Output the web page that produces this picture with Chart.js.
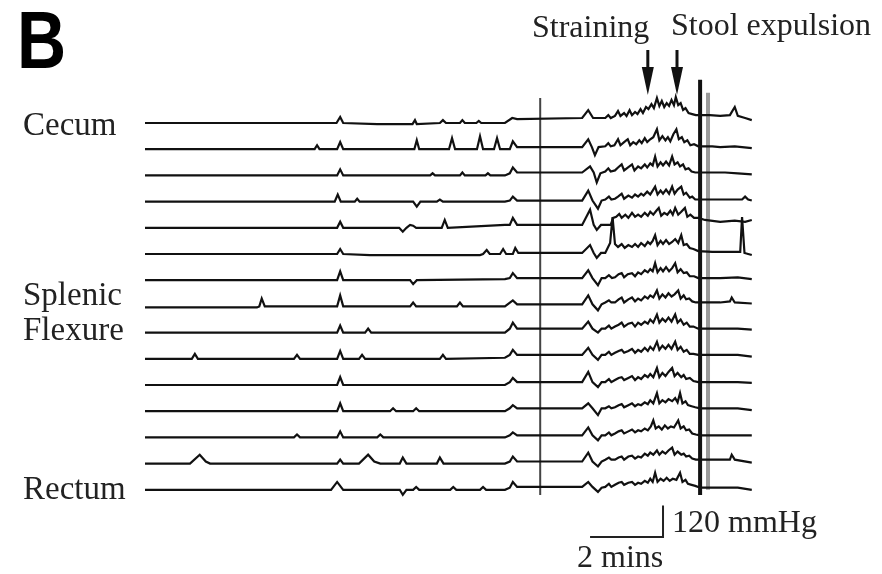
<!DOCTYPE html>
<html>
<head>
<meta charset="utf-8">
<script src="https://cdn.jsdelivr.net/npm/chart.js@4"></script>
<style>
  html, body { margin: 0; padding: 0; background: #fff; }
  #wrap { width: 882px; height: 574px; position: relative; }
</style>
</head>
<body>
<div id="wrap"><canvas id="c"></canvas></div>
<script>
// each trace: [seconds, mmHg above its own baseline], top (cecum) to bottom (rectum)
const trace01 = [[0,0],[315,0],[321,23],[326,0],[382,-4],[440,-4],[444,11],[447,-4],[485,0],[490,11],[495,0],[518,0],[522,11],[526,0],[545,0],[549,8],[553,0],[592,0],[604,19],[612,15],[719,19],[729,49],[737,19],
  [757,19],[762,30],[766,19],[773,27],[778,46],[782,27],[788,38],[792,27],[797,49],[801,30],[806,42],[810,34],[815,53],[819,38],[824,61],[828,53],[833,72],[837,57],[842,95],[846,65],[850,84],[854,61],[858,76],[862,65],[866,88],[870,68],[873,99],[877,68],[881,76],[885,50],[889,57],[894,38],[900,34],[906,30],
  [913,30],[929,30],[946,27],[962,30],[970,61],[975,27],[987,19],[998,11]];
const trace02 = [[0,0],[279,0],[283,15],[287,0],[316,0],[321,27],[326,0],[443,0],[447,34],[451,0],[500,0],[505,42],[510,0],[546,0],[551,49],[556,0],[574,0],[579,42],[584,0],[600,0],[605,30],[612,8],[719,8],[729,38],[735,8],[740,-23],[746,8],
  [757,11],[762,23],[766,11],[772,15],[778,38],[782,15],[788,27],[794,38],[798,15],[803,27],[808,19],[813,34],[817,23],[822,42],[826,27],[831,38],[836,46],[842,76],[846,34],[851,50],[856,34],[860,46],[864,30],[869,57],[874,76],[878,38],[883,46],[887,27],[892,34],[897,15],[903,19],[910,11],
  [933,11],[946,8],[970,11],[998,4]];
const trace03 = [[0,0],[316,0],[321,23],[326,0],[469,0],[473,8],[477,0],[518,0],[522,11],[526,0],[560,0],[564,8],[568,0],[592,0],[600,8],[605,30],[612,11],[719,11],[732,34],[738,11],[743,-27],[749,8],
  [757,15],[762,27],[766,15],[773,19],[778,30],[784,42],[788,19],[794,30],[801,42],[805,19],[811,34],[816,27],[822,42],[826,30],[831,46],[835,38],[839,72],[843,34],[848,50],[852,38],[857,53],[862,38],[867,72],[871,42],[876,50],[880,34],[885,42],[889,23],[894,27],[899,15],[905,11],
  [933,11],[954,11],[975,8],[998,4]];
const trace04 = [[0,0],[312,0],[317,27],[322,0],[345,0],[349,11],[353,0],[441,0],[447,-19],[453,0],[480,0],[485,8],[490,0],[592,0],[600,4],[605,19],[612,4],[719,4],[729,42],[736,4],[745,-27],[751,4],
  [757,8],[763,19],[767,8],[773,11],[778,19],[784,30],[788,11],[795,23],[801,15],[806,27],[811,19],[816,30],[820,23],[826,38],[831,27],[835,42],[839,57],[843,27],[848,42],[852,30],[857,46],[862,30],[867,57],[871,30],[876,46],[882,57],[886,27],[890,34],[896,15],[900,19],[905,8],
  [933,8],[946,8],[982,8],[987,19],[992,8],[998,4]];
const trace05 = [[0,0],[316,0],[321,23],[326,0],[418,0],[424,-15],[430,0],[436,11],[441,8],[446,0],[488,0],[493,30],[498,0],[592,11],[600,11],[605,38],[612,11],[719,11],[732,69],[738,11],[743,-8],[750,11],
  [757,11],[766,11],[770,38],[775,42],[780,53],[784,38],[790,50],[795,38],[801,57],[806,42],[811,50],[816,42],[822,57],[827,46],[831,61],[836,50],[841,65],[845,76],[849,46],[854,57],[859,50],[864,65],[868,50],[872,76],[877,50],[882,61],[888,76],[892,42],[897,50],[903,38],[910,38],
  [921,30],[946,23],[970,27],[987,23],[998,30]];
const trace06 = [[0,0],[316,0],[321,19],[326,0],[370,-4],[551,-4],[556,0],[562,15],[567,0],[584,0],[589,19],[594,0],[605,0],[609,23],[614,4],[719,4],[732,34],[738,4],[743,-15],[750,4],
  [757,4],[765,42],[769,141],[773,38],[778,27],[784,38],[789,23],[795,34],[801,27],[806,38],[811,27],[816,42],[822,30],[827,46],[831,38],[835,50],[839,72],[843,34],[848,50],[852,38],[857,53],[862,38],[867,46],[872,57],[877,42],[882,72],[886,34],[891,38],[896,23],[902,19],[910,11],
  [933,8],[962,8],[979,8],[982,141],[986,4],[998,-4]];
const trace07 = [[0,0],[316,0],[321,34],[326,0],[436,0],[441,-15],[447,0],[592,4],[600,8],[605,27],[612,8],[719,8],[729,38],[736,8],[745,-19],[751,8],
  [757,8],[763,19],[768,8],[773,11],[779,23],[784,27],[788,11],[794,23],[801,27],[806,15],[811,30],[816,23],[822,38],[827,30],[831,42],[835,34],[839,65],[843,30],[848,46],[852,34],[857,50],[862,34],[867,46],[872,65],[876,30],[881,42],[886,27],[891,30],[896,15],[903,15],[910,8],
  [946,8],[975,11],[998,4]];
const trace08 = [[0,-4],[184,-4],[188,0],[192,30],[197,0],[316,0],[321,42],[326,0],[436,0],[441,15],[446,0],[513,0],[518,15],[523,0],[592,0],[605,23],[612,8],[719,8],[729,42],[736,8],[745,-15],[751,8],
  [757,15],[763,23],[767,15],[773,15],[779,27],[784,34],[788,15],[795,27],[801,34],[806,19],[811,30],[816,23],[822,38],[827,30],[831,42],[836,34],[842,61],[846,30],[851,46],[856,34],[861,50],[866,38],[871,46],[877,61],[881,30],[886,42],[890,27],[895,30],[900,19],[906,15],
  [913,15],[946,15],[962,19],[965,34],[970,15],[998,11]];
const trace09 = [[0,0],[316,0],[321,27],[326,0],[362,0],[367,15],[372,0],[592,0],[600,15],[605,38],[612,15],[719,15],[729,42],[736,15],[745,0],[751,15],
  [757,15],[763,27],[767,15],[773,23],[779,30],[784,38],[788,23],[795,34],[801,38],[806,23],[811,38],[816,30],[822,42],[827,34],[831,50],[836,38],[842,69],[846,38],[851,53],[856,42],[861,57],[866,42],[872,69],[876,38],[881,50],[886,30],[891,38],[896,23],[902,23],[910,15],
  [946,15],[975,15],[998,11]];
const trace10 = [[0,0],[77,0],[82,19],[87,0],[245,0],[250,15],[255,0],[316,0],[321,30],[326,0],[352,0],[357,15],[362,0],[485,0],[490,15],[495,0],[592,4],[600,15],[605,34],[612,15],[719,15],[729,42],[736,15],[745,-4],[751,15],
  [757,15],[763,27],[767,15],[773,23],[779,30],[784,34],[788,23],[795,30],[801,38],[806,23],[811,34],[816,27],[822,42],[827,30],[831,46],[836,34],[842,65],[846,34],[851,50],[856,38],[861,53],[866,38],[872,65],[876,34],[881,46],[886,27],[891,34],[896,19],[902,19],[910,15],
  [946,15],[975,15],[998,8]];
const trace11 = [[0,0],[316,0],[321,30],[326,0],[592,0],[600,11],[605,27],[612,11],[719,11],[729,50],[736,11],[745,-8],[751,11],
  [757,11],[763,23],[767,11],[773,19],[779,27],[784,30],[788,19],[795,27],[801,34],[806,19],[811,30],[816,23],[822,38],[827,30],[831,42],[836,30],[842,65],[846,30],[851,46],[856,34],[861,50],[867,65],[871,34],[876,46],[882,30],[886,38],[890,23],[896,27],[902,15],[910,11],
  [946,11],[975,11],[998,8]];
const trace12 = [[0,0],[316,0],[321,30],[326,0],[403,0],[408,11],[413,0],[441,0],[446,11],[451,0],[592,0],[600,11],[605,23],[612,11],[719,11],[729,30],[736,11],[745,-15],[751,11],
  [757,11],[763,19],[767,11],[773,15],[779,23],[784,27],[788,15],[795,23],[801,30],[806,19],[811,27],[816,23],[822,34],[827,27],[831,42],[836,30],[842,69],[846,30],[851,42],[856,34],[861,46],[867,38],[872,50],[876,34],[880,69],[884,30],[889,38],[893,23],[899,19],[905,15],[913,11],
  [946,11],[975,11],[998,4]];
const trace13 = [[0,0],[245,0],[250,11],[255,0],[316,0],[321,23],[326,0],[382,0],[387,11],[392,0],[592,0],[600,8],[605,19],[612,8],[719,8],[729,38],[736,8],[745,-11],[751,8],
  [757,8],[763,19],[767,8],[773,15],[779,23],[784,27],[788,15],[795,23],[801,30],[806,19],[811,27],[816,23],[822,34],[827,27],[832,42],[836,65],[840,34],[845,42],[850,30],[855,46],[860,34],[865,42],[870,38],[877,65],[881,34],[886,42],[890,27],[895,30],[900,15],[906,11],[913,8],
  [946,8],[975,8],[998,8]];
const trace14 = [[0,0],[74,0],[90,34],[100,8],[107,0],[316,0],[321,15],[326,0],[352,0],[367,34],[377,8],[387,0],[419,0],[424,23],[430,0],[480,0],[485,23],[491,0],[592,0],[600,8],[605,27],[612,8],[719,8],[729,42],[736,8],[745,-11],[751,8],
  [757,15],[763,23],[767,15],[773,15],[779,23],[784,27],[788,15],[795,27],[801,30],[806,19],[811,27],[816,23],[822,38],[827,30],[831,42],[836,34],[842,50],[846,34],[851,46],[856,38],[861,50],[867,61],[871,34],[876,46],[882,34],[886,38],[890,27],[895,30],[900,19],[906,15],[913,15],
  [946,15],[962,15],[965,34],[970,15],[998,4]];
const trace15 = [[0,0],[306,0],[316,30],[326,0],[419,0],[424,-19],[430,0],[441,0],[446,11],[451,0],[502,0],[507,11],[512,0],[551,0],[556,11],[561,0],[592,0],[600,8],[605,30],[612,11],[719,11],[729,30],[736,11],[745,-8],[751,8],
  [757,11],[763,23],[767,11],[773,19],[779,27],[784,30],[788,19],[795,27],[801,30],[806,19],[811,27],[816,23],[822,34],[827,27],[831,42],[835,30],[839,65],[843,30],[848,42],[853,34],[858,46],[863,34],[868,42],[874,38],[880,65],[884,30],[889,38],[893,23],[899,19],[905,15],[913,8],
  [946,8],[975,8],[998,0]];

const traces = [trace01, trace02, trace03, trace04, trace05, trace06, trace07, trace08,
                trace09, trace10, trace11, trace12, trace13, trace14, trace15];

// event marker lines (seconds), with top / bottom in mmHg on the channel-0 scale
const markerTimes = [650, 913, 926];
const markerTop = [95, 165, 115];
const markerBottom = [-1420, -1420, -1400];

const arrowTimes = [827, 875];           // straining, stool expulsion
const scaleBarSeconds = 120;             // 2 mins
const scaleBarMmHg = 120;

const SPACING = 100;                     // mmHg between channels
const PX_PER_SEC = 0.608, PX_PER_MMHG = 0.262, X0 = 145, Y0 = 123;
const W = 882, H = 574;

const datasets = [];
traces.forEach((tr, i) => {
    datasets.push({
        data: tr.map(([t, v]) => ({ x: t, y: v - i * SPACING })),
        borderColor: '#111',
        borderWidth: 2.2
    });
});
markerTimes.forEach((t, i) => {
    datasets.push({
        data: [{ x: t, y: markerTop[i] }, { x: t, y: markerBottom[i] }],
        borderColor: ['#444', '#111', '#9a9a9a'][i],
        borderWidth: [2, 4, 4][i]
    });
});
// calibration bar
const barX = 732, barY = -1580;
datasets.push({
    data: [{ x: barX, y: barY }, { x: barX + scaleBarSeconds, y: barY }, { x: barX + scaleBarSeconds, y: barY + scaleBarMmHg }],
    borderColor: '#222',
    borderWidth: 2
});

const textPlugin = {
    id: 'texts',
    afterDraw(chart) {
        const ctx = chart.ctx;
        const xs = chart.scales.x;
        ctx.save();
        // panel letter
        ctx.fillStyle = '#000';
        ctx.font = 'bold 81px "Liberation Sans", Arial, sans-serif';
        ctx.textBaseline = 'alphabetic';
        ctx.save();
        ctx.scale(0.84, 1);
        ctx.fillText('B', 17 / 0.84, 68);
        ctx.restore();

        ctx.fillStyle = '#222';
        ctx.font = '32px "Liberation Serif", "Times New Roman", serif';
        ctx.fillText('Straining', 532, 37);
        ctx.fillText('Stool expulsion', 671, 35);
        ctx.font = '33px "Liberation Serif", "Times New Roman", serif';
        ctx.fillText('Cecum', 23, 135);
        ctx.fillText('Splenic', 23, 305);
        ctx.fillText('Flexure', 23, 340);
        ctx.fillText('Rectum', 23, 499);
        ctx.font = '32px "Liberation Serif", "Times New Roman", serif';
        ctx.fillText('120 mmHg', 672, 532);
        ctx.fillText('2 mins', 577, 567);

        // arrows
        ctx.fillStyle = '#111';
        ctx.strokeStyle = '#111';
        arrowTimes.forEach(t => {
            const px = xs.getPixelForValue(t);
            ctx.lineWidth = 3;
            ctx.beginPath();
            ctx.moveTo(px, 50);
            ctx.lineTo(px, 72);
            ctx.stroke();
            ctx.beginPath();
            ctx.moveTo(px - 6, 67);
            ctx.lineTo(px + 6, 67);
            ctx.lineTo(px, 95);
            ctx.closePath();
            ctx.fill();
        });
        ctx.restore();
    }
};

new Chart(document.getElementById('c'), {
    type: 'line',
    data: { datasets },
    options: {
        responsive: true,
        maintainAspectRatio: false,
        animation: false,
        layout: { padding: 0 },
        elements: { point: { radius: 0 }, line: { tension: 0 } },
        plugins: { legend: { display: false }, tooltip: { enabled: false } },
        scales: {
            x: { type: 'linear', display: false, min: -X0 / PX_PER_SEC, max: (W - X0) / PX_PER_SEC },
            y: { type: 'linear', display: false, min: -(H - Y0) / PX_PER_MMHG, max: Y0 / PX_PER_MMHG }
        }
    },
    plugins: [textPlugin]
});
</script>
</body>
</html>
